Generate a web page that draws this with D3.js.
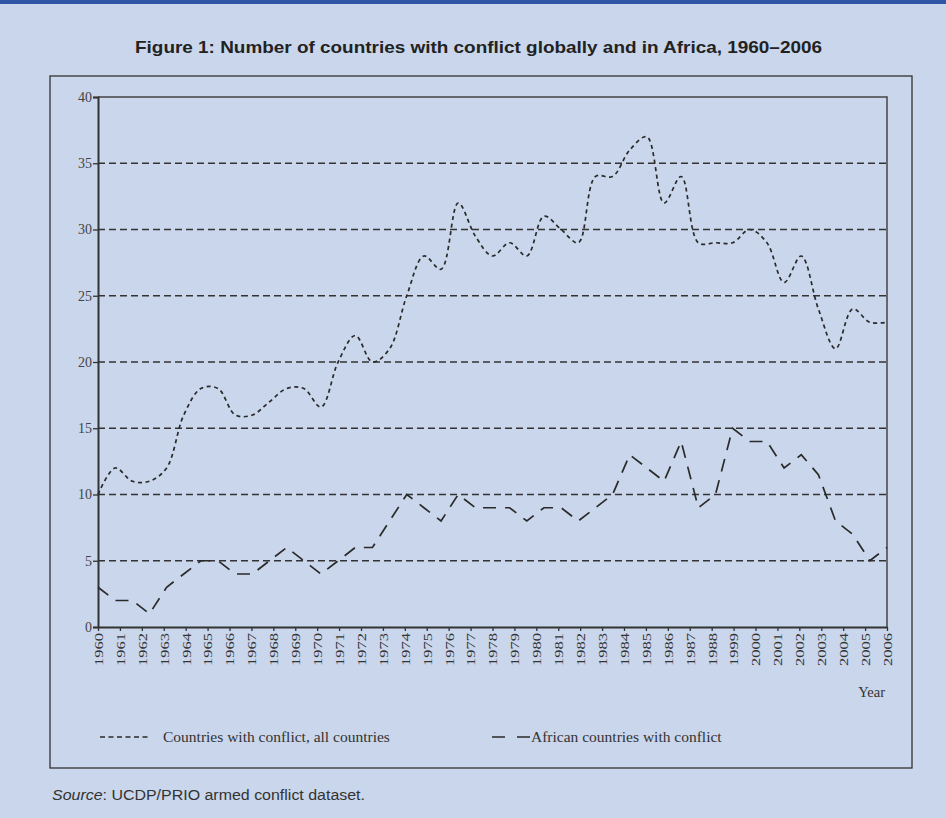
<!DOCTYPE html>
<html>
<head>
<meta charset="utf-8">
<script src="https://cdn.jsdelivr.net/npm/d3@7"></script>
<style>
  body { margin: 0; background: #c9d6eb; }
  svg { display: block; }
  .tickText { font-family: "Liberation Serif", "DejaVu Serif", serif; fill: #333; }
</style>
</head>
<body>
<div id="chart"></div>
<script>
// one point per year
var years = [1960, 1961, 1962, 1963, 1964, 1965, 1966, 1967, 1968, 1969,
  1970, 1971, 1972, 1973, 1974, 1975, 1976, 1977, 1978, 1979,
  1980, 1981, 1982, 1983, 1984, 1985, 1986, 1987, 1988, 1989,
  1990, 1991, 1992, 1993, 1994, 1995, 1996, 1997, 1998, 1999,
  2000, 2001, 2002, 2003, 2004, 2005, 2006];

// Countries with conflict, all countries
var globalCounts = [10, 12, 11, 11, 12, 16, 18, 18, 16, 16,
  17, 18, 18, 16.6, 20, 22, 20, 21, 25, 28,
  27, 32, 29.5, 28, 29, 28, 31, 30, 29, 34,
  34, 36, 37, 32, 34, 29, 29, 29, 30, 29,
  26, 28, 24, 21, 24, 23, 23];

// African countries with conflict
var africaCounts = [3, 2, 2, 1, 3, 4, 5, 5, 4, 4,
  5, 6, 5, 4, 5, 6, 6, 8, 10, 9,
  8, 10, 9, 9, 9, 8, 9, 9, 8, 9,
  10, 13, 12, 11, 14, 9, 10, 15, 14, 14,
  12, 13, 11.5, 8, 7, 5, 6];

// tick labels as printed on the axis (37 ticks, jumping from 1988 to 1999)
var yearLabels = ["1960","1961","1962","1963","1964","1965","1966","1967","1968","1969",
  "1970","1971","1972","1973","1974","1975","1976","1977","1978","1979",
  "1980","1981","1982","1983","1984","1985","1986","1987","1988","1999",
  "2000","2001","2002","2003","2004","2005","2006"];

var yTicks = [0, 5, 10, 15, 20, 25, 30, 35, 40];

var width = 946, height = 818;
var plot = { left: 98, right: 887, top: 97, bottom: 627 };

var svg = d3.select("#chart").append("svg")
    .attr("width", width)
    .attr("height", height);

// background and top rule
svg.append("rect").attr("width", width).attr("height", height).attr("fill", "#c9d6eb");
svg.append("rect").attr("width", width).attr("height", 4).attr("fill", "#2f56a6");

// title
svg.append("text")
    .attr("x", 135).attr("y", 53)
    .attr("textLength", 687)
    .attr("lengthAdjust", "spacingAndGlyphs")
    .style("font-family", "'Liberation Sans', Arial, sans-serif")
    .style("font-weight", "bold")
    .style("font-size", "17px")
    .style("fill", "#222")
    .text("Figure 1: Number of countries with conflict globally and in Africa, 1960\u20132006");

// outer box
svg.append("rect")
    .attr("x", 50).attr("y", 76)
    .attr("width", 862).attr("height", 692)
    .attr("fill", "none")
    .attr("stroke", "#333")
    .attr("stroke-width", 1.3);

var xTick = d3.scalePoint().domain(yearLabels).range([plot.left, plot.right]);
var x = d3.scaleLinear().domain([years[0], years[years.length - 1]]).range([plot.left, plot.right]);
var y = d3.scaleLinear().domain([0, 40]).range([plot.bottom, plot.top]);

// dashed gridlines
svg.append("g").selectAll("line")
    .data(yTicks.filter(function(d) { return d > 0 && d < 40; }))
    .join("line")
    .attr("x1", plot.left).attr("x2", plot.right)
    .attr("y1", function(d) { return y(d); })
    .attr("y2", function(d) { return y(d); })
    .attr("stroke", "#333")
    .attr("stroke-width", 1.3)
    .attr("stroke-dasharray", "7,4");

// top and right frame
svg.append("path")
    .attr("d", "M" + plot.left + "," + plot.top + "H" + plot.right + "V" + plot.bottom)
    .attr("fill", "none")
    .attr("stroke", "#444")
    .attr("stroke-width", 1.5);

// y axis
var yAxis = svg.append("g")
    .attr("transform", "translate(" + plot.left + ",0)")
    .call(d3.axisLeft(y).tickValues(yTicks).tickSize(5).tickPadding(1));
yAxis.select(".domain").attr("stroke", "#333").attr("stroke-width", 2);
yAxis.selectAll(".tick line").attr("stroke", "#333").attr("stroke-width", 1.3);
yAxis.selectAll(".tick text")
    .attr("class", "tickText")
    .style("font-size", "14px")
    .style("fill", "#444");

// x axis
var xAxis = svg.append("g")
    .attr("transform", "translate(0," + plot.bottom + ")")
    .call(d3.axisBottom(xTick).tickSize(4).tickSizeOuter(0));
xAxis.select(".domain").attr("stroke", "#333").attr("stroke-width", 2);
xAxis.selectAll(".tick line").attr("stroke", "#333").attr("stroke-width", 1.3);
xAxis.selectAll(".tick text")
    .attr("class", "tickText")
    .style("font-size", "12.5px")
    .attr("text-anchor", "end")
    .attr("transform", "rotate(-90)")
    .attr("x", -6).attr("y", 0).attr("dy", "0.35em")
    .attr("textLength", 33)
    .attr("lengthAdjust", "spacingAndGlyphs");

svg.append("text")
    .attr("class", "tickText")
    .attr("x", 885).attr("y", 697)
    .attr("text-anchor", "end")
    .style("font-size", "14.5px")
    .text("Year");

// series
var lineGlobal = d3.line()
    .x(function(d, i) { return x(years[i]); })
    .y(function(d) { return y(d); })
    .curve(d3.curveCatmullRom.alpha(0.5));

var lineAfrica = d3.line()
    .x(function(d, i) { return x(years[i]); })
    .y(function(d) { return y(d); });

svg.append("path")
    .datum(globalCounts)
    .attr("d", lineGlobal)
    .attr("fill", "none")
    .attr("stroke", "#2a2a2a")
    .attr("stroke-width", 1.7)
    .attr("stroke-dasharray", "4,3.5");

svg.append("path")
    .datum(africaCounts)
    .attr("d", lineAfrica)
    .attr("fill", "none")
    .attr("stroke", "#2a2a2a")
    .attr("stroke-width", 1.7)
    .attr("stroke-dasharray", "13,9");

// legend
var legend = svg.append("g");
legend.append("line")
    .attr("x1", 100).attr("x2", 150).attr("y1", 737).attr("y2", 737)
    .attr("stroke", "#2a2a2a").attr("stroke-width", 1.6)
    .attr("stroke-dasharray", "5,3.5");
legend.append("text")
    .attr("class", "tickText")
    .attr("x", 163).attr("y", 742)
    .style("font-size", "15.5px")
    .text("Countries with conflict, all countries");
legend.append("line")
    .attr("x1", 492).attr("x2", 530).attr("y1", 737).attr("y2", 737)
    .attr("stroke", "#2a2a2a").attr("stroke-width", 1.6)
    .attr("stroke-dasharray", "13,12");
legend.append("text")
    .attr("class", "tickText")
    .attr("x", 531).attr("y", 742)
    .style("font-size", "15.5px")
    .text("African countries with conflict");

// source note
var source = svg.append("text")
    .attr("x", 52).attr("y", 800)
    .attr("textLength", 313)
    .attr("lengthAdjust", "spacingAndGlyphs")
    .style("font-family", "'Liberation Sans', Arial, sans-serif")
    .style("font-size", "14px")
    .style("fill", "#333");
source.append("tspan").style("font-style", "italic").text("Source");
source.append("tspan").text(": UCDP/PRIO armed conflict dataset.");
</script>
</body>
</html>
